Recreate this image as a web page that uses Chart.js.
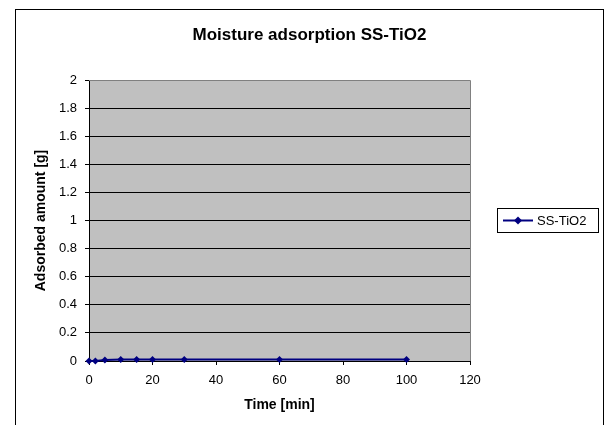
<!DOCTYPE html>
<html>
<head>
<meta charset="utf-8">
<script src="https://cdn.jsdelivr.net/npm/chart.js@4"></script>
<style>
  html, body { margin: 0; padding: 0; background: #ffffff; }
  #wrap { width: 604px; height: 425px; position: relative; }
</style>
</head>
<body>
<div id="wrap"><canvas id="c" width="604" height="425"></canvas></div>
<script>
const chartTitle = 'Moisture adsorption SS-TiO2';
const xAxisTitle = 'Time [min]';
const yAxisTitle = 'Adsorbed amount [g]';
const seriesName = 'SS-TiO2';
const timeMin = [0, 2, 5, 10, 15, 20, 30, 60, 100];
const adsorbedG = [0, 0, 0.008, 0.01, 0.01, 0.01, 0.01, 0.01, 0.01];
const xTicks = [0, 20, 40, 60, 80, 100, 120];
const yTicks = [0, 0.2, 0.4, 0.6, 0.8, 1, 1.2, 1.4, 1.6, 1.8, 2];

const FONT = 'Arial, "Liberation Sans", sans-serif';
const points = timeMin.map((t, i) => ({ x: t, y: adsorbedG[i] }));

const decor = {
  id: 'decor',
  beforeDraw(chart) {
    const { ctx, chartArea: a } = chart;
    ctx.save();
    ctx.fillStyle = '#ffffff';
    ctx.fillRect(0, 0, chart.width, chart.height);
    ctx.fillStyle = '#c0c0c0';
    ctx.fillRect(a.left, a.top, a.right - a.left, a.bottom - a.top);
    ctx.restore();
  },
  afterDatasetsDraw(chart) {
    const { ctx, chartArea: a } = chart;
    ctx.save();
    // plot frame (top / right in gray)
    ctx.strokeStyle = '#808080';
    ctx.lineWidth = 1;
    ctx.beginPath();
    ctx.moveTo(a.left, a.top + 0.5);
    ctx.lineTo(a.right + 0.5, a.top + 0.5);
    ctx.lineTo(a.right + 0.5, a.bottom);
    ctx.stroke();
    // outer chart border
    ctx.strokeStyle = '#000000';
    ctx.lineWidth = 1;
    ctx.strokeRect(15.5, 9.5, 588, 440);
    // chart title, centred on the whole chart frame
    ctx.fillStyle = '#000000';
    ctx.font = 'bold 17px ' + FONT;
    ctx.textAlign = 'center';
    ctx.textBaseline = 'middle';
    ctx.fillText(chartTitle, 309.5, 35);
    // legend
    const ds = chart.data.datasets[0];
    const lx = 497.5, ly = 208.5, lw = 101, lh = 24;
    ctx.strokeStyle = '#000000';
    ctx.strokeRect(lx, ly, lw, lh);
    const cy = ly + lh / 2;
    ctx.strokeStyle = ds.borderColor;
    ctx.lineWidth = 2;
    ctx.beginPath();
    ctx.moveTo(503, cy);
    ctx.lineTo(533, cy);
    ctx.stroke();
    ctx.fillStyle = ds.backgroundColor;
    ctx.beginPath();
    ctx.moveTo(518, cy - 4);
    ctx.lineTo(522, cy);
    ctx.lineTo(518, cy + 4);
    ctx.lineTo(514, cy);
    ctx.closePath();
    ctx.fill();
    ctx.fillStyle = '#000000';
    ctx.font = '13px ' + FONT;
    ctx.textBaseline = 'middle';
    ctx.textAlign = 'left';
    ctx.fillText(ds.label, 537, cy + 1);
    ctx.restore();
  }
};

new Chart(document.getElementById('c'), {
  type: 'scatter',
  data: {
    datasets: [{
      label: seriesName,
      data: points,
      showLine: true,
      borderColor: '#000080',
      backgroundColor: '#000080',
      borderWidth: 2,
      pointStyle: 'rectRot',
      pointRadius: 3.5,
      pointHoverRadius: 3.5,
      pointBorderWidth: 0,
      clip: false
    }]
  },
  options: {
    responsive: false,
    animation: false,
    devicePixelRatio: 1,
    layout: { padding: { left: 20, right: 134, top: 80, bottom: 0 } },
    plugins: {
      legend: { display: false },
      tooltip: { enabled: false },
      title: { display: false }
    },
    scales: {
      x: {
        type: 'linear',
        min: 0,
        max: 120,
        afterBuildTicks(scale) { scale.ticks = xTicks.map(v => ({ value: v })); },
        afterFit(scale) { scale.height = 64; },
        ticks: { color: '#000000', font: { family: FONT, size: 13 }, padding: 8, maxRotation: 0 },
        grid: { drawOnChartArea: false, drawTicks: true, tickLength: 4, color: '#000000' },
        border: { color: '#000000', width: 1 },
        title: {
          display: true,
          text: xAxisTitle,
          color: '#000000',
          font: { family: FONT, size: 14, weight: 'bold', lineHeight: 1.2 },
          padding: { top: 0, bottom: 11 }
        }
      },
      y: {
        type: 'linear',
        min: 0,
        max: 2,
        afterBuildTicks(scale) { scale.ticks = yTicks.map(v => ({ value: v })); },
        afterFit(scale) { scale.width = 69; },
        ticks: {
          color: '#000000',
          font: { family: FONT, size: 13 },
          padding: 8,
          callback: v => String(Math.round(v * 10) / 10)
        },
        grid: { drawOnChartArea: true, drawTicks: true, tickLength: 4, color: '#000000', lineWidth: 1 },
        border: { color: '#000000', width: 1 },
        title: {
          display: true,
          text: yAxisTitle,
          color: '#000000',
          font: { family: FONT, size: 14, weight: 'bold', lineHeight: 1.2 },
          padding: { top: 13, bottom: 0 }
        }
      }
    }
  },
  plugins: [decor]
});
</script>
</body>
</html>
